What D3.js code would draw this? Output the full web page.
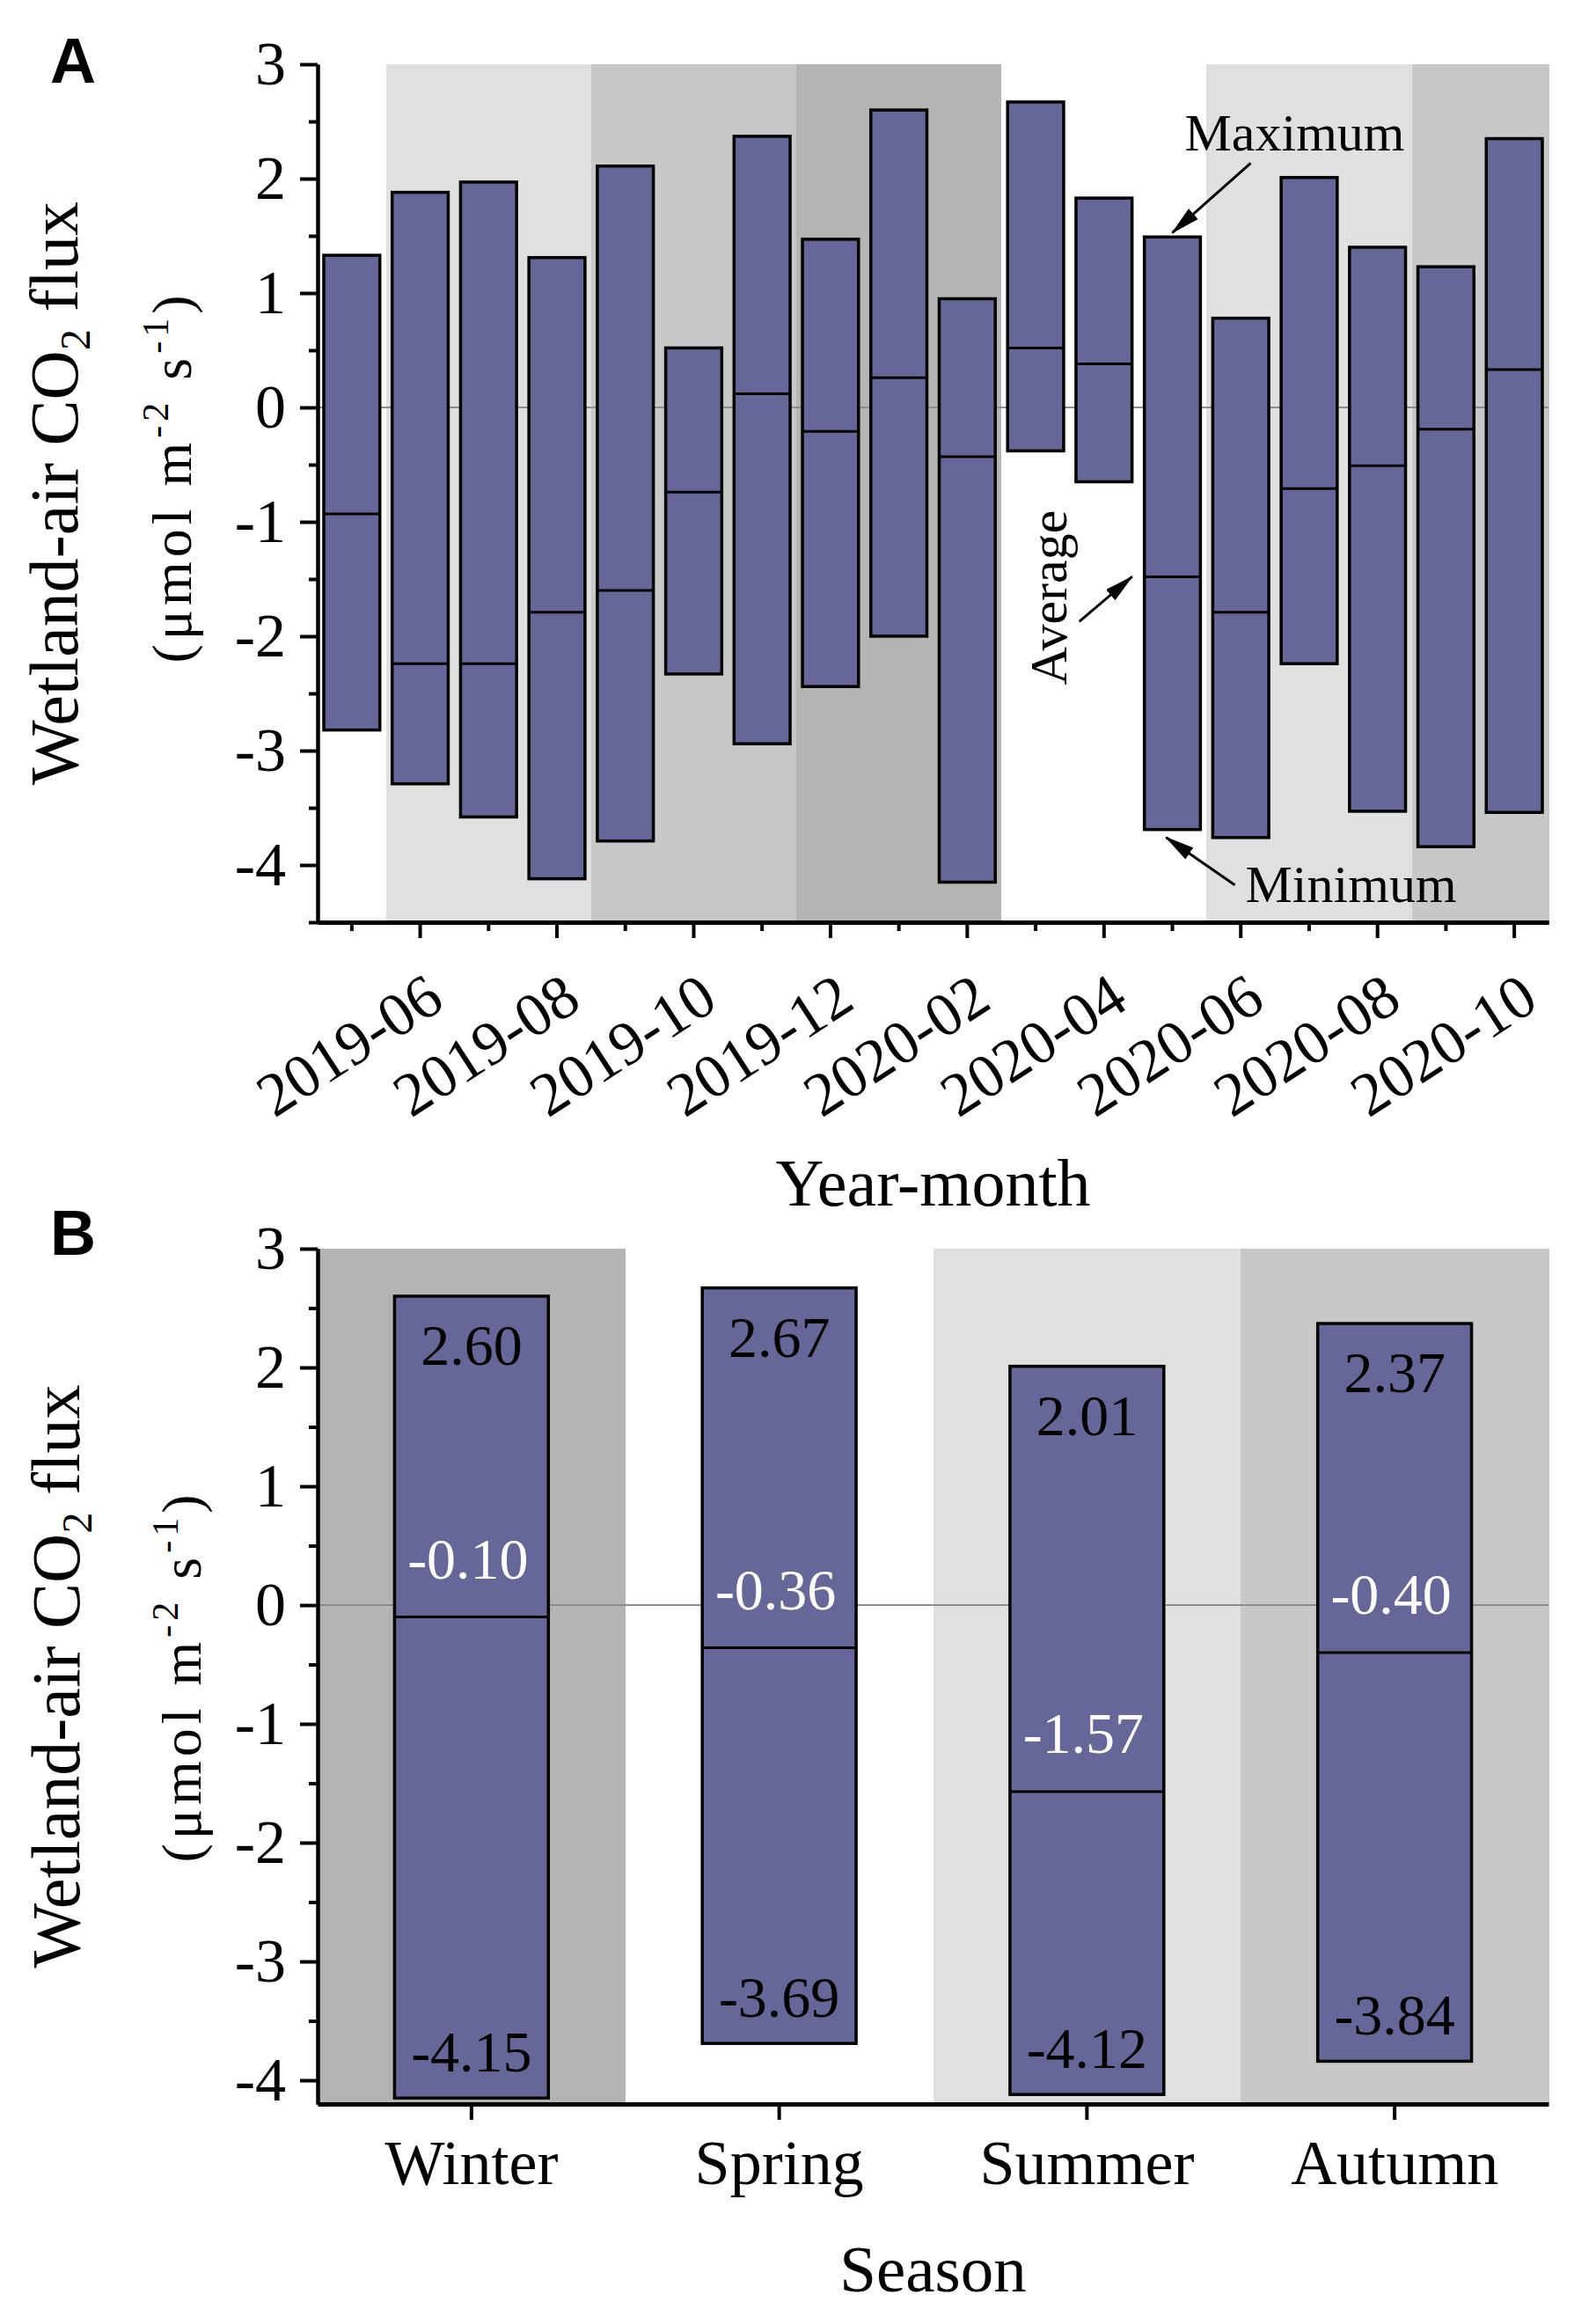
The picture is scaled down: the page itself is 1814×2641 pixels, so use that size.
<!DOCTYPE html>
<html>
<head>
  <meta charset="utf-8">
  <title>Wetland-air CO2 flux</title>
  <script src="https://d3js.org/d3.v7.min.js"></script>
  <style>
    body { margin: 0; background: #fff; }
    text { font-family: "Liberation Serif", "Times New Roman", serif; }
  </style>
</head>
<body>
<script>
  // data: monthly and seasonal max / average / min flux
  var months = ["2019-05", "2019-06", "2019-07", "2019-08", "2019-09", "2019-10", "2019-11", "2019-12", "2020-01",
                "2020-02", "2020-03", "2020-04", "2020-05", "2020-06", "2020-07", "2020-08", "2020-09", "2020-10"];
  var monthMax = [1.33, 1.88, 1.97, 1.31, 2.11, 0.52, 2.37, 1.47, 2.60, 0.95, 2.67, 1.83, 1.49, 0.78, 2.01, 1.40, 1.23, 2.35];
  var monthAvg = [-0.93, -2.24, -2.24, -1.79, -1.60, -0.74, 0.12, -0.21, 0.26, -0.43, 0.52, 0.38, -1.48, -1.79, -0.71, -0.51, -0.19, 0.33];
  var monthMin = [-2.82, -3.29, -3.58, -4.12, -3.79, -2.33, -2.94, -2.44, -2.00, -4.15, -0.38, -0.65, -3.69, -3.76, -2.24, -3.53, -3.84, -3.54];
  var monthSeason = ["Spring", "Summer", "Summer", "Summer", "Autumn", "Autumn", "Autumn", "Winter", "Winter",
                     "Winter", "Spring", "Spring", "Spring", "Summer", "Summer", "Summer", "Autumn", "Autumn"];

  var seasons = ["Winter", "Spring", "Summer", "Autumn"];
  var seasonMax = [2.60, 2.67, 2.01, 2.37];
  var seasonAvg = [-0.10, -0.36, -1.57, -0.40];
  var seasonMin = [-4.15, -3.69, -4.12, -3.84];

  var yTicks = [-4, -3, -2, -1, 0, 1, 2, 3];
  var yMinorA = [-4.5, -3.5, -2.5, -1.5, -0.5, 0.5, 1.5, 2.5];
  var yMinorB = [-3.5, -2.5, -1.5, -0.5, 0.5, 1.5, 2.5];

  var seasonColor = { Winter: "#b4b4b4", Spring: "#ffffff", Summer: "#e0e0e0", Autumn: "#c8c8c8" };
  var barColor = "#666699";

  var width = 1814, height = 2641;
  var left = 361, right = 1760;
  var svg = d3.select("body").append("svg").attr("width", width).attr("height", height);

  var defs = svg.append("defs");
  defs.append("marker")
    .attr("id", "arrow")
    .attr("markerUnits", "userSpaceOnUse")
    .attr("markerWidth", 34).attr("markerHeight", 16)
    .attr("refX", 32).attr("refY", 8)
    .attr("orient", "auto")
    .append("path").attr("d", "M0,0 L34,8 L0,16 Z").attr("fill", "#000");

  function styleAxis(g, w) {
    g.select(".domain").attr("stroke", "#000").attr("stroke-width", w);
    g.selectAll(".tick line").attr("stroke", "#000").attr("stroke-width", 4);
  }

  function yTitle(cy, b1, b2, cy2) {
    var g = svg.append("g").attr("transform", "translate(0," + cy + ") rotate(-90)");
    var t1 = g.append("text").attr("x", 0).attr("y", b1).attr("text-anchor", "middle").attr("font-size", 78);
    t1.append("tspan").text("Wetland-air CO");
    t1.append("tspan").attr("font-size", 48).attr("dy", 14).text("2");
    t1.append("tspan").attr("dy", -14).text(" flux");
    var t2 = g.append("text").attr("x", cy - cy2).attr("y", b2).attr("text-anchor", "middle")
      .attr("font-size", 64).attr("letter-spacing", 5);
    t2.append("tspan").text("(\u03bcmol m");
    t2.append("tspan").attr("font-size", 42).attr("dy", -26).text("-2");
    t2.append("tspan").attr("dy", 26).text(" s");
    t2.append("tspan").attr("font-size", 42).attr("dy", -26).text("-1");
    t2.append("tspan").attr("dy", 26).text(")");
  }

  // ---------- Panel A ----------
  var topA = 73, botA = 1048;
  var xA = d3.scaleBand().domain(months).range([left, right]).paddingInner(0.18).paddingOuter(0.09);
  var yA = d3.scaleLinear().domain([-4.5, 3]).range([botA, topA]);
  var stepA = xA.step();

  svg.append("g").selectAll("rect").data(months).enter().append("rect")
    .attr("x", d => xA(d) - stepA * 0.09)
    .attr("y", topA)
    .attr("width", stepA + 0.5)
    .attr("height", botA - topA)
    .attr("fill", (d, i) => seasonColor[monthSeason[i]])
    .attr("shape-rendering", "crispEdges");

  svg.append("line")
    .attr("x1", left).attr("x2", right)
    .attr("y1", yA(0)).attr("y2", yA(0))
    .attr("stroke", "#8c8c8c").attr("stroke-width", 2);

  var barsA = svg.append("g").selectAll("g").data(months).enter().append("g");
  barsA.append("rect")
    .attr("x", d => xA(d))
    .attr("y", (d, i) => yA(monthMax[i]))
    .attr("width", xA.bandwidth())
    .attr("height", (d, i) => yA(monthMin[i]) - yA(monthMax[i]))
    .attr("fill", barColor).attr("stroke", "#000").attr("stroke-width", 3.5);
  barsA.append("line")
    .attr("x1", d => xA(d)).attr("x2", d => xA(d) + xA.bandwidth())
    .attr("y1", (d, i) => yA(monthAvg[i])).attr("y2", (d, i) => yA(monthAvg[i]))
    .attr("stroke", "#000").attr("stroke-width", 3);

  var yAxA = svg.append("g").attr("transform", "translate(" + left + ",0)")
    .call(d3.axisLeft(yA).tickValues(yTicks).tickSize(20).tickSizeOuter(0).tickPadding(16).tickFormat(d => String(d)));
  styleAxis(yAxA, 4);
  yAxA.selectAll("text").attr("font-size", 70).attr("font-family", "Liberation Serif").attr("fill", "#000");
  var yAxAm = svg.append("g").attr("transform", "translate(" + left + ",0)")
    .call(d3.axisLeft(yA).tickValues(yMinorA).tickSize(10).tickSizeOuter(0).tickFormat(""));
  styleAxis(yAxAm, 4);

  var evenMonths = months.filter((d, i) => i % 2 === 1);
  var oddMonths = months.filter((d, i) => i % 2 === 0);
  var xAxA = svg.append("g").attr("transform", "translate(0," + botA + ")")
    .call(d3.axisBottom(xA).tickValues(evenMonths).tickSize(18).tickSizeOuter(0));
  styleAxis(xAxA, 5);
  xAxA.selectAll("text")
    .attr("x", 0).attr("y", 0).attr("dy", 0)
    .attr("transform", "translate(30,96) rotate(-33)")
    .attr("text-anchor", "end")
    .attr("font-size", 70).attr("font-family", "Liberation Serif").attr("fill", "#000");
  var xAxAm = svg.append("g").attr("transform", "translate(0," + botA + ")")
    .call(d3.axisBottom(xA).tickValues(oddMonths).tickSize(10).tickSizeOuter(0).tickFormat(""));
  styleAxis(xAxAm, 5);

  svg.append("text").attr("x", (left + right) / 2).attr("y", 1370)
    .attr("text-anchor", "middle").attr("font-size", 76).text("Year-month");

  yTitle((topA + botA) / 2, 88, 217, 542);

  svg.append("text").attr("x", 57).attr("y", 94)
    .attr("font-weight", "bold").attr("font-size", 72)
    .style("font-family", "Liberation Sans, Arial, sans-serif").text("A");

  // annotations on the 2020-05 bar
  var k = months.indexOf("2020-05");
  var bx = xA(months[k]), cx = bx + xA.bandwidth() / 2;
  var ann = svg.append("g");
  ann.append("line")
    .attr("x1", cx + 89).attr("y1", yA(monthMax[k]) - 84)
    .attr("x2", cx).attr("y2", yA(monthMax[k]) - 5)
    .attr("stroke", "#000").attr("stroke-width", 3).attr("marker-end", "url(#arrow)");
  ann.append("text").attr("x", cx + 14).attr("y", yA(monthMax[k]) - 98)
    .attr("font-size", 60).text("Maximum");
  ann.append("line")
    .attr("x1", bx - 74).attr("y1", yA(monthAvg[k]) + 51)
    .attr("x2", bx - 14).attr("y2", yA(monthAvg[k]))
    .attr("stroke", "#000").attr("stroke-width", 3).attr("marker-end", "url(#arrow)");
  ann.append("text")
    .attr("transform", "translate(" + (bx - 89) + "," + (yA(monthAvg[k]) + 123) + ") rotate(-90)")
    .attr("font-size", 60).text("Average");
  ann.append("line")
    .attr("x1", cx + 71).attr("y1", yA(monthMin[k]) + 63)
    .attr("x2", cx - 7).attr("y2", yA(monthMin[k]) + 9)
    .attr("stroke", "#000").attr("stroke-width", 3).attr("marker-end", "url(#arrow)");
  ann.append("text").attr("x", cx + 83).attr("y", yA(monthMin[k]) + 82)
    .attr("font-size", 60).text("Minimum");

  // ---------- Panel B ----------
  var topB = 1419, botB = 2391;
  var xB = d3.scaleBand().domain(seasons).range([left, right]).paddingInner(0.5).paddingOuter(0.25);
  var yB = d3.scaleLinear().domain([-4.2, 3]).range([botB, topB]);
  var stepB = xB.step();

  svg.append("g").selectAll("rect").data(seasons).enter().append("rect")
    .attr("x", d => xB(d) - stepB * 0.25)
    .attr("y", topB)
    .attr("width", stepB + 0.5)
    .attr("height", botB - topB)
    .attr("fill", d => seasonColor[d])
    .attr("shape-rendering", "crispEdges");

  svg.append("line")
    .attr("x1", left).attr("x2", right)
    .attr("y1", yB(0)).attr("y2", yB(0))
    .attr("stroke", "#8c8c8c").attr("stroke-width", 2);

  var barsB = svg.append("g").selectAll("g").data(seasons).enter().append("g");
  barsB.append("rect")
    .attr("x", d => xB(d))
    .attr("y", (d, i) => yB(seasonMax[i]))
    .attr("width", xB.bandwidth())
    .attr("height", (d, i) => yB(seasonMin[i]) - yB(seasonMax[i]))
    .attr("fill", barColor).attr("stroke", "#000").attr("stroke-width", 3.5);
  barsB.append("line")
    .attr("x1", d => xB(d)).attr("x2", d => xB(d) + xB.bandwidth())
    .attr("y1", (d, i) => yB(seasonAvg[i])).attr("y2", (d, i) => yB(seasonAvg[i]))
    .attr("stroke", "#000").attr("stroke-width", 3);
  barsB.append("text")
    .attr("x", d => xB(d) + xB.bandwidth() / 2)
    .attr("y", (d, i) => yB(seasonMax[i]) + 78)
    .attr("text-anchor", "middle").attr("font-size", 66).attr("fill", "#000")
    .text((d, i) => seasonMax[i].toFixed(2));
  barsB.append("text")
    .attr("x", d => xB(d) + xB.bandwidth() / 2 - 4)
    .attr("y", (d, i) => yB(seasonAvg[i]) - 44)
    .attr("text-anchor", "middle").attr("font-size", 66).attr("fill", "#fff")
    .text((d, i) => seasonAvg[i].toFixed(2));
  barsB.append("text")
    .attr("x", d => xB(d) + xB.bandwidth() / 2)
    .attr("y", (d, i) => yB(seasonMin[i]) - 30)
    .attr("text-anchor", "middle").attr("font-size", 66).attr("fill", "#000")
    .text((d, i) => seasonMin[i].toFixed(2));

  var yAxB = svg.append("g").attr("transform", "translate(" + left + ",0)")
    .call(d3.axisLeft(yB).tickValues(yTicks).tickSize(20).tickSizeOuter(0).tickPadding(16).tickFormat(d => String(d)));
  styleAxis(yAxB, 4);
  yAxB.selectAll("text").attr("font-size", 70).attr("font-family", "Liberation Serif").attr("fill", "#000");
  var yAxBm = svg.append("g").attr("transform", "translate(" + left + ",0)")
    .call(d3.axisLeft(yB).tickValues(yMinorB).tickSize(10).tickSizeOuter(0).tickFormat(""));
  styleAxis(yAxBm, 4);

  var xAxB = svg.append("g").attr("transform", "translate(0," + botB + ")")
    .call(d3.axisBottom(xB).tickSize(18).tickSizeOuter(0));
  styleAxis(xAxB, 5);
  xAxB.selectAll("text").attr("y", 91).attr("dy", 0)
    .attr("font-size", 72).attr("font-family", "Liberation Serif").attr("fill", "#000");

  svg.append("text").attr("x", (left + right) / 2).attr("y", 2604)
    .attr("text-anchor", "middle").attr("font-size", 75).text("Season");

  yTitle((topB + botB) / 2, 90, 228, 1905);

  svg.append("text").attr("x", 57).attr("y", 1426)
    .attr("font-weight", "bold").attr("font-size", 72)
    .style("font-family", "Liberation Sans, Arial, sans-serif").text("B");
</script>
</body>
</html>
